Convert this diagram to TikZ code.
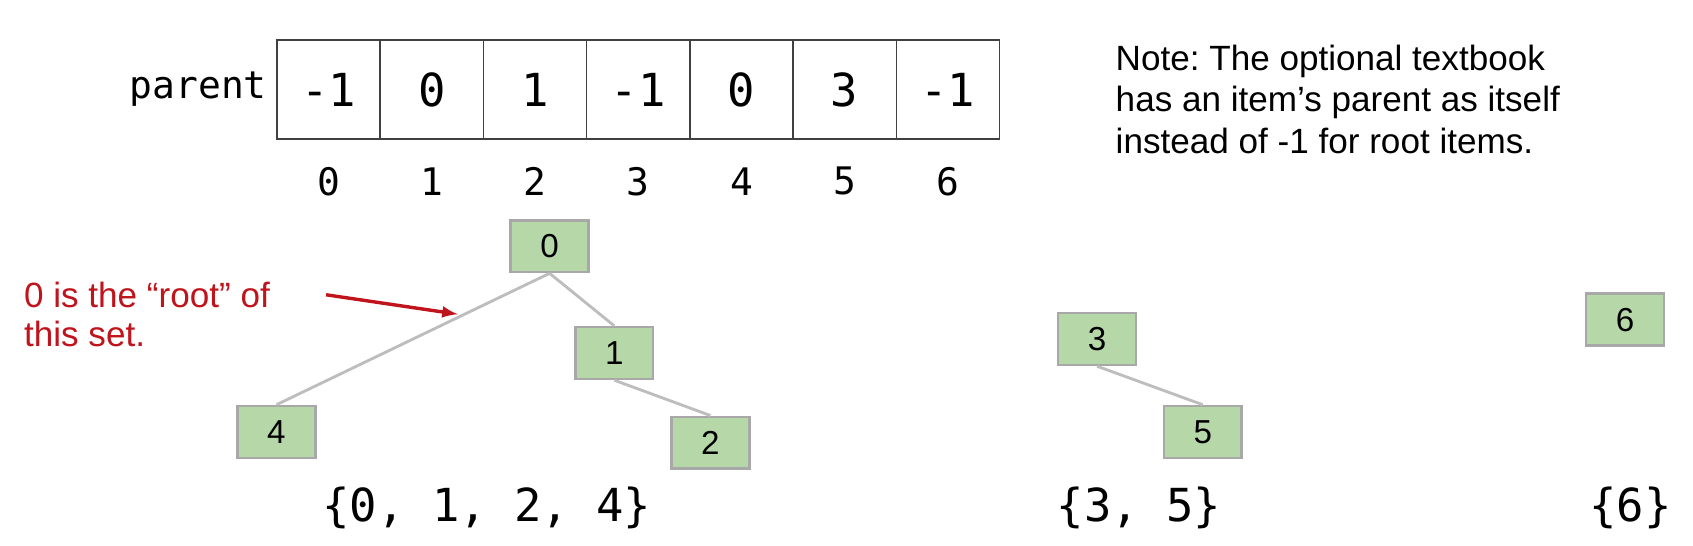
\documentclass[tikz,border=0pt]{standalone}
\usepackage{fontspec}
\setmainfont{Liberation Sans}
\setmonofont{DejaVu Sans Mono}
\frenchspacing
\usetikzlibrary{arrows,positioning}
\definecolor{setgreen}{HTML}{B6D7A8}
\definecolor{setgray}{HTML}{A8A8A8}
\definecolor{linkgray}{HTML}{BDBDBD}
\definecolor{rootred}{HTML}{C0141C}
\tikzset{
  cell/.style={draw=black!75, line width=.8pt, minimum width=1.912cm,
    minimum height=1.83cm, font=\ttfamily\fontsize{24}{28}\selectfont},
  index/.style={font=\ttfamily\fontsize{20}{24}\selectfont},
  item/.style={draw=setgray, fill=setgreen, line width=1.3pt,
    minimum width=1.44cm, minimum height=.96cm, font=\fontsize{17.5}{20}\selectfont},
  link/.style={draw=linkgray, line width=1.5pt},
  setlabel/.style={font=\ttfamily\fontsize{24}{28}\selectfont}
}

\begin{document}
\begin{tikzpicture}[x=.02cm, y=-.02cm]
\useasboundingbox (0,0) rectangle (1568,505.6);

% parent array
\node[cell] at (304.3,83) (c0) {-1};
\node[cell] at (399.9,83) (c1) {0};
\node[cell] at (495.5,83) (c2) {1};
\node[cell] at (591.1,83) (c3) {-1};
\node[cell] at (686.7,83) (c4) {0};
\node[cell] at (782.3,83) (c5) {3};
\node[cell] at (877.9,83) (c6) {-1};
\node[index, left=.05cm of c0] (parent) {parent};

\node[index] at (304.3,168) (i0) {0};
\node[index] at (399.9,168) (i1) {1};
\node[index] at (495.5,168) (i2) {2};
\node[index] at (591.1,168) (i3) {3};
\node[index] at (686.7,168) (i4) {4};
\node[index] at (782.3,168) (i5) {5};
\node[index] at (877.9,168) (i6) {6};

\node[anchor=north west, align=left, inner sep=0pt,
  font=\fontsize{18.5}{22}\selectfont] at (1033,41) (note)
  {Note: The optional textbook\\has an item’s parent as itself\\instead of -1 for root items.};

% trees
\node[item] at (509,228) (n0) {0};
\node[item] at (569,327) (n1) {1};
\node[item] at (256,400) (n4) {4};
\node[item] at (658,410) (n2) {2};
\node[item] at (1016,314) (n3) {3};
\node[item] at (1114,400) (n5) {5};
\node[item] at (1505,296) (n6) {6};

\draw[link] (n0.south) -- (n4.north);
\draw[link] (n0.south) -- (n1.north);
\draw[link] (n1.south) -- (n2.north);
\draw[link] (n3.south) -- (n5.north);

\node[anchor=north west, align=left, inner sep=0pt, text=rootred,
  font=\fontsize{18.5}{20.5}\selectfont] at (22,261) (rootnote)
  {0 is the “root” of\\this set.};
\coordinate (rootfrom) at (302,273);
\coordinate (rootto) at (424,291);
\draw[arrows={-latex}, rootred, line width=1.8pt] (rootfrom) -- (rootto);

\node[setlabel] at (451,470) (set0) {\{0, 1, 2, 4\}};
\node[setlabel] at (1055,470) (set3) {\{3, 5\}};
\node[setlabel] at (1510,470) (set6) {\{6\}};
\end{tikzpicture}
\end{document}
